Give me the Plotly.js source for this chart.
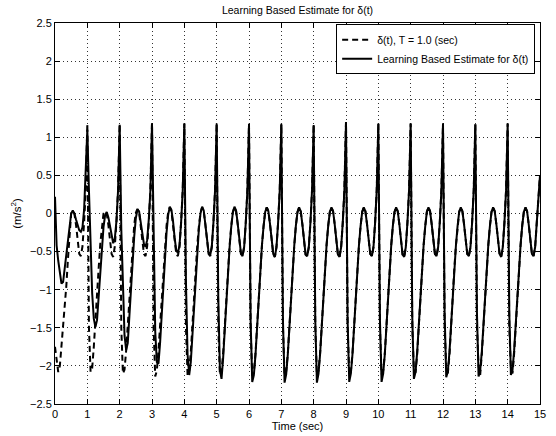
<!DOCTYPE html>
<html>
<head>
<meta charset="utf-8">
<script src="https://cdn.plot.ly/plotly-3.0.1.min.js"></script>
<style>html,body{margin:0;padding:0;background:#fff;}#chart{width:556px;height:436px;}</style>
</head>
<body>
<div id="chart"></div>
<script>
// Sampling: first sample at t = 0 s, one sample every 0.05 s
const startTime = 0;
const sampleStep = 0.05;

// delta(t), T = 1.0 (sec)  -- one row per second
const deltaTrue = [
  -1.75, -1.95, -2.08, -2.00, -1.75, -1.50, -1.22, -0.95, -0.60, -0.25, 0.00, 0.04, 0.00, -0.15, -0.38, -0.53, -0.56, -0.43, -0.12, 0.30,
  1.18, -1.50, -2.08, -2.03, -1.75, -1.45, -1.08, -0.72, -0.40, -0.15, 0.00, 0.03, 0.00, -0.15, -0.38, -0.53, -0.57, -0.43, -0.12, 0.30,
  1.18, -1.50, -2.10, -2.05, -1.80, -1.45, -1.08, -0.72, -0.40, -0.15, 0.01, 0.06, 0.02, -0.15, -0.38, -0.53, -0.56, -0.43, -0.12, 0.30,
  1.20, -1.50, -2.14, -2.06, -1.80, -1.46, -1.08, -0.72, -0.41, -0.16, 0.02, 0.08, 0.03, -0.14, -0.37, -0.53, -0.56, -0.44, -0.12, 0.30,
  1.18, -1.50, -2.12, -2.06, -1.82, -1.46, -1.08, -0.72, -0.42, -0.17, 0.01, 0.08, 0.03, -0.14, -0.37, -0.53, -0.56, -0.44, -0.12, 0.30,
  1.18, -1.50, -2.12, -2.07, -1.84, -1.47, -1.08, -0.72, -0.42, -0.17, 0.02, 0.08, 0.03, -0.14, -0.37, -0.53, -0.56, -0.44, -0.12, 0.30,
  1.18, -1.50, -2.13, -2.08, -1.84, -1.47, -1.08, -0.72, -0.42, -0.17, 0.02, 0.08, 0.03, -0.14, -0.37, -0.53, -0.57, -0.44, -0.12, 0.30,
  1.18, -1.50, -2.12, -2.07, -1.84, -1.46, -1.07, -0.72, -0.42, -0.16, 0.02, 0.08, 0.03, -0.14, -0.37, -0.54, -0.56, -0.44, -0.12, 0.31,
  1.17, -1.50, -2.13, -2.06, -1.83, -1.46, -1.08, -0.72, -0.41, -0.16, 0.02, 0.08, 0.03, -0.14, -0.38, -0.54, -0.57, -0.44, -0.12, 0.30,
  1.20, -1.50, -2.12, -2.07, -1.84, -1.47, -1.08, -0.72, -0.42, -0.17, 0.02, 0.08, 0.03, -0.14, -0.37, -0.53, -0.56, -0.44, -0.12, 0.30,
  1.18, -1.50, -2.11, -2.06, -1.84, -1.46, -1.07, -0.71, -0.41, -0.16, 0.02, 0.08, 0.03, -0.14, -0.37, -0.54, -0.57, -0.44, -0.12, 0.30,
  1.18, -1.50, -2.05, -2.09, -1.85, -1.46, -1.07, -0.72, -0.42, -0.17, 0.02, 0.08, 0.03, -0.14, -0.37, -0.53, -0.56, -0.44, -0.12, 0.30,
  1.18, -1.50, -2.02, -2.10, -1.86, -1.45, -1.07, -0.72, -0.42, -0.17, 0.02, 0.08, 0.03, -0.14, -0.37, -0.53, -0.56, -0.44, -0.12, 0.30,
  1.17, -1.50, -2.00, -2.12, -1.85, -1.45, -1.07, -0.72, -0.42, -0.17, 0.02, 0.08, 0.03, -0.14, -0.37, -0.53, -0.57, -0.44, -0.12, 0.30,
  1.18, -1.50, -2.02, -2.10, -1.84, -1.44, -1.06, -0.71, -0.41, -0.16, 0.02, 0.08, 0.03, -0.14, -0.37, -0.53, -0.56, -0.44, -0.12, 0.28,
  0.50
];

// Learning Based Estimate for delta(t)  -- one row per second
const deltaEstimate = [
  0.22, -0.42, -0.62, -0.80, -0.92, -0.90, -0.72, -0.50, -0.28, -0.10, 0.00, 0.04, 0.00, -0.08, -0.16, -0.22, -0.24, -0.18, 0.05, 0.50,
  1.10, 0.30, -0.50, -1.05, -1.38, -1.49, -1.40, -1.10, -0.75, -0.45, -0.18, -0.02, 0.02, -0.05, -0.18, -0.32, -0.39, -0.33, -0.10, 0.30,
  1.15, -0.20, -1.10, -1.60, -1.79, -1.70, -1.35, -0.95, -0.60, -0.30, -0.06, 0.05, 0.03, -0.10, -0.27, -0.40, -0.44, -0.35, -0.08, 0.30,
  1.18, -0.60, -1.55, -1.95, -1.97, -1.70, -1.30, -0.90, -0.55, -0.25, -0.02, 0.09, 0.05, -0.10, -0.32, -0.48, -0.52, -0.42, -0.12, 0.30,
  1.18, -0.90, -1.85, -2.12, -1.95, -1.60, -1.20, -0.82, -0.48, -0.20, 0.00, 0.09, 0.04, -0.12, -0.35, -0.51, -0.55, -0.43, -0.12, 0.30,
  1.18, -1.10, -2.05, -2.17, -1.90, -1.52, -1.12, -0.76, -0.44, -0.18, 0.01, 0.09, 0.04, -0.13, -0.36, -0.52, -0.56, -0.44, -0.12, 0.30,
  1.17, -1.40, -2.21, -2.12, -1.86, -1.47, -1.08, -0.72, -0.42, -0.17, 0.02, 0.08, 0.03, -0.14, -0.37, -0.53, -0.57, -0.44, -0.12, 0.30,
  1.16, -1.40, -2.22, -2.11, -1.85, -1.46, -1.07, -0.72, -0.42, -0.16, 0.02, 0.08, 0.03, -0.14, -0.37, -0.54, -0.56, -0.44, -0.12, 0.31,
  1.16, -1.40, -2.22, -2.10, -1.84, -1.46, -1.08, -0.72, -0.41, -0.16, 0.02, 0.08, 0.03, -0.14, -0.38, -0.54, -0.57, -0.44, -0.12, 0.30,
  1.20, -1.40, -2.21, -2.10, -1.85, -1.47, -1.08, -0.72, -0.42, -0.17, 0.02, 0.08, 0.03, -0.14, -0.37, -0.53, -0.56, -0.44, -0.12, 0.30,
  1.18, -1.40, -2.21, -2.10, -1.85, -1.46, -1.07, -0.71, -0.41, -0.16, 0.02, 0.08, 0.03, -0.14, -0.37, -0.54, -0.57, -0.44, -0.12, 0.30,
  1.18, -1.35, -2.17, -2.08, -1.83, -1.45, -1.07, -0.72, -0.42, -0.17, 0.02, 0.08, 0.03, -0.14, -0.37, -0.53, -0.56, -0.44, -0.12, 0.30,
  1.18, -1.30, -2.15, -2.07, -1.82, -1.45, -1.07, -0.72, -0.42, -0.17, 0.02, 0.08, 0.03, -0.14, -0.37, -0.53, -0.56, -0.44, -0.12, 0.30,
  1.17, -1.30, -2.14, -2.06, -1.82, -1.45, -1.07, -0.72, -0.42, -0.17, 0.02, 0.08, 0.03, -0.14, -0.37, -0.53, -0.57, -0.44, -0.12, 0.30,
  1.18, -1.30, -2.12, -2.05, -1.80, -1.44, -1.06, -0.71, -0.41, -0.16, 0.02, 0.08, 0.03, -0.14, -0.37, -0.53, -0.56, -0.44, -0.12, 0.28,
  0.50
];

const seriesNames = ['δ(t), T = 1.0 (sec)', 'Learning Based Estimate for δ(t)'];
const xTickValues = [0,1,2,3,4,5,6,7,8,9,10,11,12,13,14,15];
const yTickValues = [-2.5,-2,-1.5,-1,-0.5,0,0.5,1,1.5,2,2.5];

const traces = [
  {
    type: 'scatter', mode: 'lines', name: seriesNames[0],
    x0: startTime, dx: sampleStep, y: deltaTrue,
    line: {color: '#000', width: 2, dash: '6px,4px'}
  },
  {
    type: 'scatter', mode: 'lines', name: seriesNames[1],
    x0: startTime, dx: sampleStep, y: deltaEstimate,
    line: {color: '#000', width: 2}
  }
];

const axisCommon = {
  showgrid: true, gridcolor: '#333', gridwidth: 1, griddash: '1px,3px',
  showline: true, linecolor: '#000', linewidth: 1, mirror: 'ticks',
  ticks: 'inside', ticklen: 5, tickcolor: '#000', zeroline: false,
  tickfont: {size: 11, color: '#000'}
};

const layout = {
  width: 556, height: 436,
  margin: {l: 55, r: 16, t: 23, b: 32},
  paper_bgcolor: '#fff', plot_bgcolor: '#fff',
  font: {family: 'Liberation Sans, Arial, sans-serif', size: 11, color: '#000'},
  title: {text: 'Learning Based Estimate for δ(t)', font: {size: 10.5}, x: 0.5, xref: 'paper', xanchor: 'center', y: 0.976, yref: 'container', yanchor: 'middle'},
  xaxis: Object.assign({}, axisCommon, {
    range: [0, 15], tickvals: xTickValues,
    title: {text: 'Time (sec)', font: {size: 11}, standoff: 2}
  }),
  yaxis: Object.assign({}, axisCommon, {
    range: [-2.5, 2.5], tickvals: yTickValues,
    title: {text: '(m/s<sup>2</sup>)', font: {size: 11.5}, standoff: 6}
  }),
  showlegend: true,
  legend: {
    x: 0.99, xanchor: 'right', y: 0.997, yanchor: 'top',
    bgcolor: '#fff', bordercolor: '#000', borderwidth: 1,
    font: {size: 10.5}, itemwidth: 30, tracegroupgap: 0
  }
};

Plotly.newPlot('chart', traces, layout, {displayModeBar: false, staticPlot: true});
</script>
</body>
</html>
